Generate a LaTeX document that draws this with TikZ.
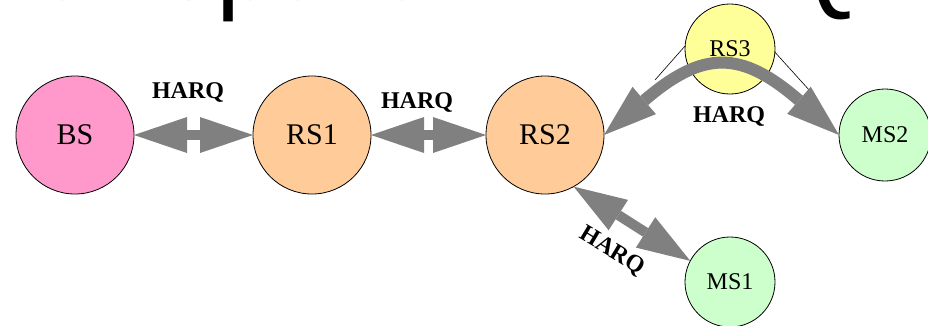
\documentclass[tikz,border=0pt]{standalone}
\usepackage{fontspec}
\setmainfont{Liberation Serif}
\newfontfamily\titlefont{Liberation Sans}
\usetikzlibrary{arrows.meta}
\definecolor{bspink}{HTML}{FF99CC}
\definecolor{rsorange}{HTML}{FFCC99}
\definecolor{rsyellow}{HTML}{FFFF99}
\definecolor{msgreen}{HTML}{CCFFCC}
\definecolor{arrowgray}{HTML}{808080}
\begin{document}
\begin{tikzpicture}[x=1pt,y=-1pt,
  station/.style={circle, draw=black, line width=0.8pt, inner sep=0pt, outer sep=0pt,
    minimum size=118pt, font=\fontsize{30}{30}\selectfont},
  smallstation/.style={station, minimum size=90pt, font=\fontsize{24}{24}\selectfont},
  harqlabel/.style={font=\bfseries\fontsize{24}{24}\selectfont, inner sep=0pt},
  harq/.style={draw=arrowgray, line width=10pt,
    {Triangle[length=53pt,width=36pt,line width=0pt]}-{Triangle[length=53pt,width=36pt,line width=0pt]}},
  harqcurve/.style={harq, line width=12pt},
  thinlink/.style={draw=black, line width=0.6pt}]
\useasboundingbox (0,0) rectangle (928,325);
\begin{scope}
  \clip (0,0) rectangle (928,325);
  \node[anchor=base west, inner sep=0pt, outer sep=0pt, font=\titlefont\fontsize{108}{108}\selectfont] (title) at (-56,-1) {Transparent HARQ};
\end{scope}
% stations
\node[station, fill=bspink] (BS) at (75,135) {BS};
\node[station, fill=rsorange] (RS1) at (312,135) {RS1};
\node[station, fill=rsorange] (RS2) at (545,135) {RS2};
\node[smallstation, fill=rsyellow] (RS3) at (730,49) {RS3};
\node[smallstation, fill=msgreen, minimum size=92pt] (MS2) at (885,135) {MS2};
\node[smallstation, fill=msgreen] (MS1) at (730,282) {MS1};
% thin links from RS3
\coordinate (l1) at (655,80);
\coordinate (l2) at (810,91);
\draw[thinlink] (RS3.176) -- (l1);
\draw[thinlink] (RS3.-4) -- (l2);
% HARQ arrows
\draw[harq] (BS) -- (RS1);
\draw[harq] (RS1) -- (RS2);
\draw[harq] (RS2.-61) -- (MS1.152);
\coordinate (c1) at (703,50);
\coordinate (c2) at (741,50);
\draw[harqcurve] (RS2.east) .. controls (c1) and (c2) .. (MS2.west);
% labels
\node[harqlabel, anchor=base] (h1) at (188,98) {HARQ};
\node[harqlabel, anchor=base] (h2) at (417,108) {HARQ};
\node[harqlabel, anchor=base] (h3) at (729,122) {HARQ};
\node[harqlabel, rotate=-31] (h4) at (612,251) {HARQ};
\end{tikzpicture}
\end{document}
